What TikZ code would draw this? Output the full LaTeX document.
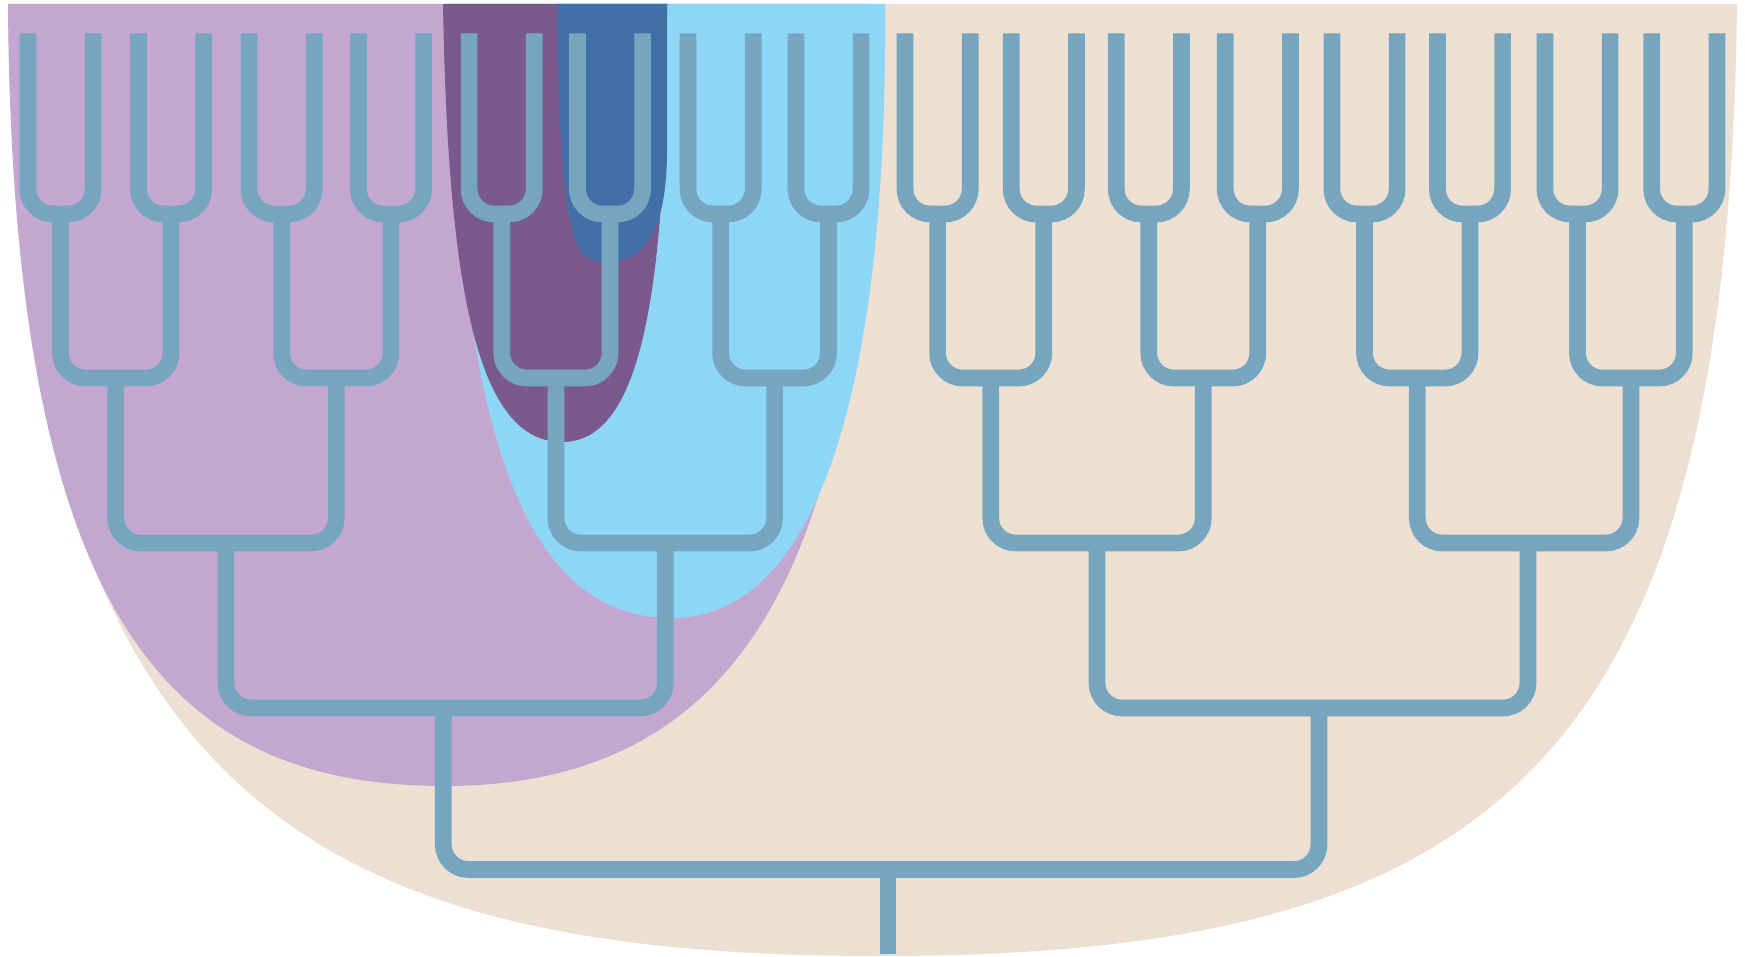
\documentclass[tikz,border=0pt]{standalone}
\definecolor{beige}{HTML}{EDDFD1}
\definecolor{lilac}{HTML}{C4A7D0}
\definecolor{plum}{HTML}{7A5A8C}
\definecolor{deepblue}{HTML}{436FA8}
\definecolor{skyblue}{HTML}{8DD6F6}
\definecolor{treeblue}{HTML}{76A6BF}
\begin{document}
\begin{tikzpicture}[x=1pt,y=-1pt,
  branch/.style={draw=treeblue, line width=16.7pt, rounded corners=25pt, line cap=butt}]
\useasboundingbox (0,0) rectangle (1745,957);
\fill[white] (0,0) rectangle (1745,957);
% background regions
\fill[beige] (8,4) -- (1737,4) .. controls (1728,760) and (1500,956) .. (880,956)
  .. controls (300,956) and (15,790) .. (8,4) -- cycle;
\fill[lilac] (8,4) -- (870,4) .. controls (875,500) and (780,786) .. (445,786)
  .. controls (170,786) and (12,620) .. (8,4) -- cycle;
\fill[skyblue] (450,4) -- (885,4) .. controls (888,380) and (820,618) .. (672,618)
  .. controls (530,618) and (455,450) .. (450,4) -- cycle;
\fill[plum] (443,4) -- (667,4) .. controls (667,300) and (640,442) .. (562,442)
  .. controls (480,442) and (448,300) .. (443,4) -- cycle;
\fill[deepblue] (557,4) -- (667,4) -- (667,150) .. controls (667,220) and (650,262) .. (607,262)
  .. controls (575,262) and (560,250) .. (557,4) -- cycle;
% tree nodes
\foreach \i/\c in {1/60.5,2/171,3/281.6,4/391,5/501.7,6/610,7/720.6,8/828.5,9/937.6,10/1043.8,11/1148.8,12/1257.8,13/1364.5,14/1470,15/1577.5,16/1684.3}{
  \coordinate (u\i) at (\c,214);
  \coordinate (la\i) at (\c-32.6,33.3);
  \coordinate (lb\i) at (\c+32.6,33.3);
}
\foreach \i/\c in {1/115.7,2/336.3,3/555.9,4/774.6,5/990.7,6/1203.3,7/1417.3,8/1630.9}{
  \coordinate (v\i) at (\c,378);
}
\coordinate (w1) at (226,543);
\coordinate (w2) at (665.3,543);
\coordinate (w3) at (1097,543);
\coordinate (w4) at (1528,543);
\coordinate (x1) at (443.3,708);
\coordinate (x2) at (1319,708);
\coordinate (r) at (888,869.5);
\coordinate (rb) at (888,954);
% connectors
\foreach \i in {1,...,16}{\draw[branch] (la\i) -- (la\i |- u\i) -- (lb\i |- u\i) -- (lb\i);}
\foreach \i/\a/\b in {1/1/2,2/3/4,3/5/6,4/7/8,5/9/10,6/11/12,7/13/14,8/15/16}{\draw[branch] (u\a) -- (u\a |- v\i) -- (u\b |- v\i) -- (u\b);}
\foreach \i/\a/\b in {1/1/2,2/3/4,3/5/6,4/7/8}{\draw[branch] (v\a) -- (v\a |- w\i) -- (v\b |- w\i) -- (v\b);}
\draw[branch] (w1) -- (w1 |- x1) -- (w2 |- x1) -- (w2);
\draw[branch] (w3) -- (w3 |- x2) -- (w4 |- x2) -- (w4);
\draw[branch] (x1) -- (x1 |- r) -- (x2 |- r) -- (x2);
\draw[branch] (r) -- (rb);
\end{tikzpicture}
\end{document}
